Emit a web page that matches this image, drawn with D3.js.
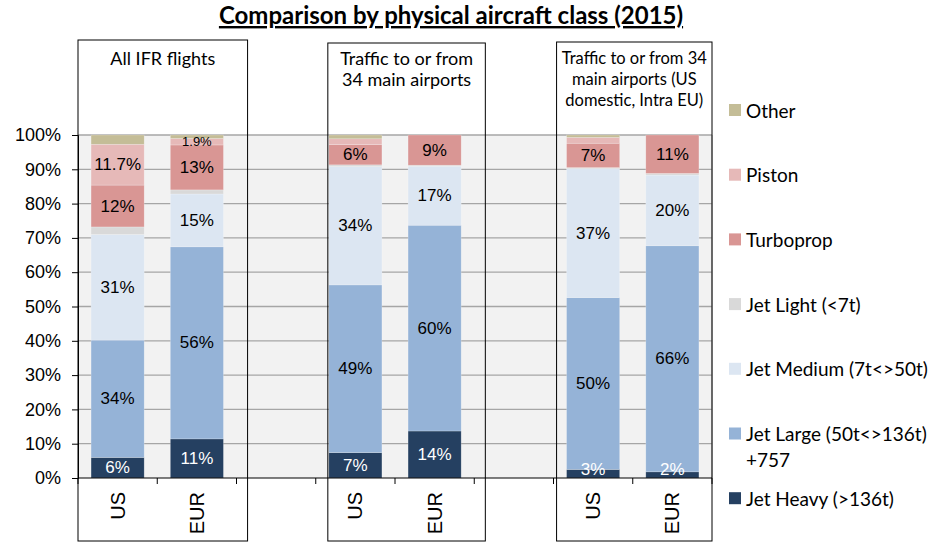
<!DOCTYPE html>
<meta charset="utf-8">
<style>
body { margin: 0; background: #fff; }
text { font-family: "Liberation Sans", Arial, sans-serif; fill: #000; }
.cal { font-family: Lato, "Open Sans", sans-serif; }
</style>
<body>
<script src="https://cdn.jsdelivr.net/npm/d3@7"></script>
<script>
// chart title and panel headers
var title = "Comparison by physical aircraft class (2015)";
var panelHeaders = [
  ["All IFR flights"],
  ["Traffic to or from", "34 main airports"],
  ["Traffic to or from 34", "main airports (US", "domestic, Intra EU)"]
];

// x slots (the gaps are empty categories between the panels)
var slots = ["a-US", "a-EUR", "gap-1", "b-US", "b-EUR", "gap-2", "c-US", "c-EUR"];
var barSlots = ["a-US", "a-EUR", "b-US", "b-EUR", "c-US", "c-EUR"];
var barNames = ["US", "EUR", "US", "EUR", "US", "EUR"];

// series, bottom to top, shares in %
var seriesKeys = ["Jet Heavy (>136t)", "Jet Large (50t<>136t) +757", "Jet Medium (7t<>50t)",
                  "Jet Light (<7t)", "Turboprop", "Piston", "Other"];
var jetHeavy  = [6.0, 11.4, 7.4, 13.7, 2.5, 1.8];
var jetLarge  = [34.2, 56.0, 48.9, 60.0, 50.1, 65.9];
var jetMedium = [30.8, 15.4, 34.5, 17.2, 37.6, 20.6];
var jetLight  = [2.2, 1.2, 0.5, 0.3, 0.3, 0.5];
var turboprop = [12.2, 13.1, 5.9, 8.8, 7.1, 11.2];
var piston    = [11.9, 1.9, 1.7, 0, 1.7, 0];
var other     = [2.7, 1.0, 1.1, 0, 0.7, 0];

// data labels as printed on the bars (null = no label)
var heavyLabels  = ["6%", "11%", "7%", "14%", "3%", "2%"];
var largeLabels  = ["34%", "56%", "49%", "60%", "50%", "66%"];
var mediumLabels = ["31%", "15%", "34%", "17%", "37%", "20%"];
var lightLabels  = [null, null, null, null, null, null];
var turboLabels  = ["12%", "13%", "6%", "9%", "7%", "11%"];
var pistonLabels = ["11.7%", "1.9%", null, null, null, null];
var otherLabels  = [null, null, null, null, null, null];

var yTicks = [0, 10, 20, 30, 40, 50, 60, 70, 80, 90, 100];

var seriesValues = [jetHeavy, jetLarge, jetMedium, jetLight, turboprop, piston, other];
var seriesLabels = [heavyLabels, largeLabels, mediumLabels, lightLabels, turboLabels, pistonLabels, otherLabels];
var colors = ["#254061", "#95b3d7", "#dce6f2", "#d9d9d9", "#d99694", "#e6b9b8", "#c4bd97"];

/* dimensions */
var W = 932, H = 542;
var margin = {top: 135, right: 220, bottom: 64, left: 78};
var width = W - margin.left - margin.right,
    height = H - margin.top - margin.bottom;

var x = d3.scaleBand().domain(slots).range([0, width]).paddingInner(0.33).paddingOuter(0.165);
var y = d3.scaleLinear().domain([0, 100]).range([height, 0]);
var color = d3.scaleOrdinal().domain(seriesKeys).range(colors);

// table for d3.stack
var table = barSlots.map(function(s, i) {
  var row = {slot: s, idx: i};
  seriesKeys.forEach(function(k, j) { row[k] = seriesValues[j][i]; });
  return row;
});
var stacked = d3.stack().keys(seriesKeys)(table);

var svg0 = d3.select("body").append("svg")
    .attr("width", W)
    .attr("height", H);

// title
svg0.append("text")
    .attr("class", "cal")
    .attr("x", 451).attr("y", 24)
    .attr("text-anchor", "middle")
    .style("font-size", "24px")
    .style("font-weight", "bold")
    .style("text-decoration", "underline")
    .text(title);

var svg = svg0.append("g")
    .attr("transform", "translate(" + margin.left + "," + margin.top + ")");

// plot background
svg.append("rect")
    .attr("width", width).attr("height", height)
    .attr("fill", "#f2f2f2");

// gridlines
svg.selectAll(".grid")
    .data(yTicks.slice(1))
  .enter().append("line")
    .attr("x1", 0).attr("x2", width)
    .attr("y1", function(d) { return y(d); })
    .attr("y2", function(d) { return y(d); })
    .attr("stroke", "#a6a6a6")
    .attr("stroke-width", 1.3);

svg.append("line")
    .attr("x1", width).attr("x2", width)
    .attr("y1", 0).attr("y2", height)
    .attr("stroke", "#a6a6a6");

// stacked bars
var layer = svg.selectAll(".layer")
    .data(stacked)
  .enter().append("g")
    .attr("fill", function(d) { return color(d.key); });

layer.selectAll("rect")
    .data(function(d) { return d; })
  .enter().append("rect")
    .attr("x", function(d) { return x(d.data.slot); })
    .attr("width", x.bandwidth())
    .attr("y", function(d) { return y(d[1]); })
    .attr("height", function(d) { return y(d[0]) - y(d[1]); })
    .attr("stroke", "#ffffff")
    .attr("stroke-opacity", 0.35)
    .attr("stroke-width", 0.6);

// data labels
stacked.forEach(function(s, j) {
  svg.selectAll(".lbl" + j)
      .data(s.filter(function(d) { return seriesLabels[j][d.data.idx]; }))
    .enter().append("text")
      .attr("x", function(d) { return x(d.data.slot) + x.bandwidth() / 2; })
      .attr("y", function(d) {
        var c = (y(d[0]) + y(d[1])) / 2;
        return Math.min(c, height - 9);
      })
      .attr("text-anchor", "middle")
      .attr("dominant-baseline", "central")
      .style("font-size", function(d) {
        return (j > 0 && y(d[0]) - y(d[1]) < 8) ? "13px" : "17px";
      })
      .style("fill", j === 0 ? "#ffffff" : "#000000")
      .text(function(d) { return seriesLabels[j][d.data.idx]; });
});

// y axis
var yAxis = svg.append("g")
    .call(d3.axisLeft(y).tickValues(yTicks).tickFormat(function(d) { return d + "%"; })
      .tickSize(6).tickPadding(11));
yAxis.select(".domain").attr("stroke", "#000");
yAxis.selectAll("text").style("font-size", "18px").style("font-family", "Liberation Sans, Arial, sans-serif").attr("fill", "#000");

// x axis (ticks on category boundaries, Excel style)
svg.append("line")
    .attr("x1", 0).attr("x2", width)
    .attr("y1", height).attr("y2", height)
    .attr("stroke", "#000");
svg.selectAll(".xtick")
    .data(d3.range(slots.length + 1))
  .enter().append("line")
    .attr("x1", function(i) { return i * x.step(); })
    .attr("x2", function(i) { return i * x.step(); })
    .attr("y1", height).attr("y2", height + 6)
    .attr("stroke", "#000");
svg.selectAll(".xlab")
    .data(barSlots)
  .enter().append("text")
    .attr("transform", function(d) {
      return "translate(" + (x(d) + x.bandwidth() / 2) + "," + (height + 14) + ") rotate(-90)";
    })
    .attr("text-anchor", "end")
    .attr("dominant-baseline", "central")
    .style("font-size", "20px")
    .text(function(d, i) { return barNames[i]; });

// panel boxes with headers
var boxEdges = [
  [0, x("gap-1") - 2],
  [x("gap-1") + x.step() - 1, x("gap-2") - 2],
  [x("gap-2") + x.step() - 10, width]
];
var boxTops = [40, 43, 42];
var headerSize = [18, 18, 16.5];
panelHeaders.forEach(function(lines, i) {
  var x0 = boxEdges[i][0], x1 = boxEdges[i][1];
  svg.append("rect")
      .attr("x", x0).attr("y", boxTops[i] - margin.top)
      .attr("width", x1 - x0).attr("height", H - 1 - boxTops[i])
      .attr("fill", "none")
      .attr("stroke", "#000");
  svg.selectAll(".hdr" + i)
      .data(lines)
    .enter().append("text")
      .attr("class", "cal")
      .attr("x", (x0 + x1) / 2)
      .attr("y", function(d, k) { return 58 - margin.top + k * 21; })
      .attr("text-anchor", "middle")
      .attr("dominant-baseline", "central")
      .style("font-size", headerSize[i] + "px")
      .text(function(d) { return d; });
});

// legend (top to bottom = reverse stacking order)
var legend = svg0.append("g").attr("transform", "translate(729,0)");
var legendKeys = seriesKeys.slice().reverse();
legendKeys.forEach(function(k, i) {
  var cy = 110 + i * 64.7;
  legend.append("rect")
      .attr("x", 0).attr("y", cy - 6)
      .attr("width", 12).attr("height", 12)
      .attr("fill", color(k));
  var parts = k.indexOf(" +") > 0 ? k.split(" +") : [k];
  parts.forEach(function(p, n) {
    legend.append("text")
        .attr("class", "cal")
        .attr("x", 17)
        .attr("y", cy + n * 26)
        .attr("dominant-baseline", "central")
        .style("font-size", "19px")
        .text(n > 0 ? "+" + p : p);
  });
});
</script>
</body>
